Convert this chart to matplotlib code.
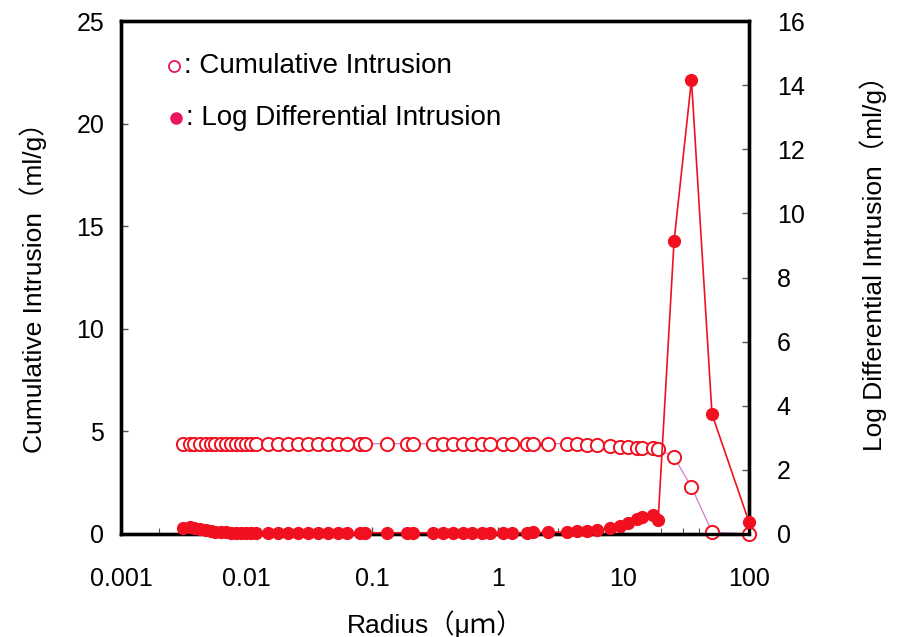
import numpy as np
import matplotlib.pyplot as plt
from matplotlib.ticker import LogLocator, NullFormatter, FixedLocator

plt.rcParams['font.family'] = ['Liberation Sans', 'Noto Sans CJK JP', 'DejaVu Sans']

# pore radius (um), shared by both series
radius = [0.00312, 0.00354, 0.00381, 0.00426, 0.00475, 0.00521, 0.00560, 0.00625,
          0.00686, 0.00751, 0.00823, 0.00902, 0.00989, 0.01084, 0.01188, 0.01481,
          0.0178, 0.0214, 0.0257, 0.0308, 0.0370, 0.0445, 0.0534, 0.0630, 0.0800,
          0.0877, 0.1312, 0.1893, 0.2113, 0.305, 0.366, 0.440, 0.528, 0.623, 0.748,
          0.867, 1.10, 1.30, 1.71, 1.91, 2.51, 3.56, 4.27, 5.13, 6.16, 7.82, 9.40,
          10.9, 12.8, 14.1, 17.2, 18.9, 25.3, 34.8, 50.7, 100.0]

# cumulative intrusion (ml/g)
cumulative = [4.40, 4.40, 4.40, 4.40, 4.40, 4.40, 4.40, 4.40,
              4.40, 4.40, 4.40, 4.40, 4.40, 4.40, 4.40, 4.40,
              4.40, 4.40, 4.40, 4.40, 4.40, 4.40, 4.40, 4.40, 4.40,
              4.40, 4.40, 4.40, 4.40, 4.40, 4.40, 4.40, 4.40, 4.40, 4.40,
              4.40, 4.40, 4.40, 4.40, 4.40, 4.40, 4.40, 4.38, 4.36, 4.33, 4.28, 4.24,
              4.22, 4.20, 4.20, 4.18, 4.15, 3.75, 2.29, 0.10, 0.0]

# log differential intrusion (ml/g)
logdiff = [0.20, 0.22, 0.20, 0.17, 0.12, 0.08, 0.06, 0.05,
           0.05, 0.04, 0.04, 0.04, 0.04, 0.04, 0.04, 0.04,
           0.04, 0.04, 0.04, 0.04, 0.04, 0.04, 0.04, 0.04, 0.04,
           0.04, 0.04, 0.04, 0.04, 0.04, 0.04, 0.04, 0.04, 0.04, 0.04,
           0.04, 0.04, 0.04, 0.04, 0.05, 0.05, 0.07, 0.08, 0.10, 0.12, 0.18, 0.26,
           0.34, 0.46, 0.54, 0.59, 0.44, 9.14, 14.16, 3.74, 0.37]

red = '#f01020'

fig = plt.figure(figsize=(8.99, 6.37), dpi=100)
ax = fig.add_axes([0.1346, 0.1617, 0.6986, 0.8053])
ax2 = ax.twinx()

ax.plot(radius, cumulative, '-o', color='#d070c8', lw=0.8, ms=9.5,
        mfc='white', mec=red, mew=1.4, zorder=3, clip_on=False)
ax2.plot(radius, logdiff, '-o', color=red, lw=1.2, ms=8.5,
         mfc=red, mec=red, zorder=3, clip_on=False)

ax.set_xscale('log')
ax.set_xlim(0.001, 100)
ax.set_ylim(0, 25)
ax2.set_ylim(0, 16)
ax.set_yticks([0, 5, 10, 15, 20, 25])
ax2.set_yticks([0, 2, 4, 6, 8, 10, 12, 14, 16])
ax.xaxis.set_major_locator(FixedLocator([0.001, 0.01, 0.1, 1, 10, 100]))
ax.set_xticklabels(['0.001', '0.01', '0.1', '1', '10', '100'])
ax.xaxis.set_minor_locator(LogLocator(base=10, subs=(2, 3, 4)))
ax.xaxis.set_minor_formatter(NullFormatter())

ax.tick_params(axis='x', which='major', direction='in', length=5, width=1,
               labelsize=18, pad=24, color='#555555')
ax.tick_params(axis='x', which='minor', direction='in', length=4, width=0.8,
               color='#555555')
ax.tick_params(axis='y', direction='in', length=5, width=1, labelsize=18,
               pad=12, color='#555555')
ax2.tick_params(axis='y', direction='in', length=5, width=1, labelsize=18,
                pad=20, color='#555555')

for a in (ax, ax2):
    for s in a.spines.values():
        s.set_linewidth(2.4)
        s.set_color('black')

lab_font = ['Liberation Sans', 'Noto Sans CJK JP', 'DejaVu Sans']
fig.text(0.037, 0.559, 'Cumulative Intrusion（ml/g）', rotation=90,
         ha='center', va='center', fontsize=19, family=lab_font)
fig.text(0.971, 0.597, 'Log Differential Intrusion（ml/g）', rotation=90,
         ha='center', va='center', fontsize=19, family=lab_font)
fig.text(0.484, 0.020, 'Radius（μｍ）', ha='center', va='center', fontsize=19,
         family=lab_font)

# legend written as text with markers
ax.plot([0.084], [0.912], 'o', transform=ax.transAxes, ms=8, mfc='white',
        mec='#e8185a', mew=1.3, clip_on=False)
ax.plot([0.087], [0.811], 'o', transform=ax.transAxes, ms=8, mfc='#e8185a',
        mec='#e8185a', clip_on=False)
ax.text(0.100, 0.912, ': Cumulative Intrusion', transform=ax.transAxes,
        fontsize=20, va='center', ha='left')
ax.text(0.103, 0.811, ': Log Differential Intrusion', transform=ax.transAxes,
        fontsize=20, va='center', ha='left')

fig.savefig('out.png', dpi=100)
